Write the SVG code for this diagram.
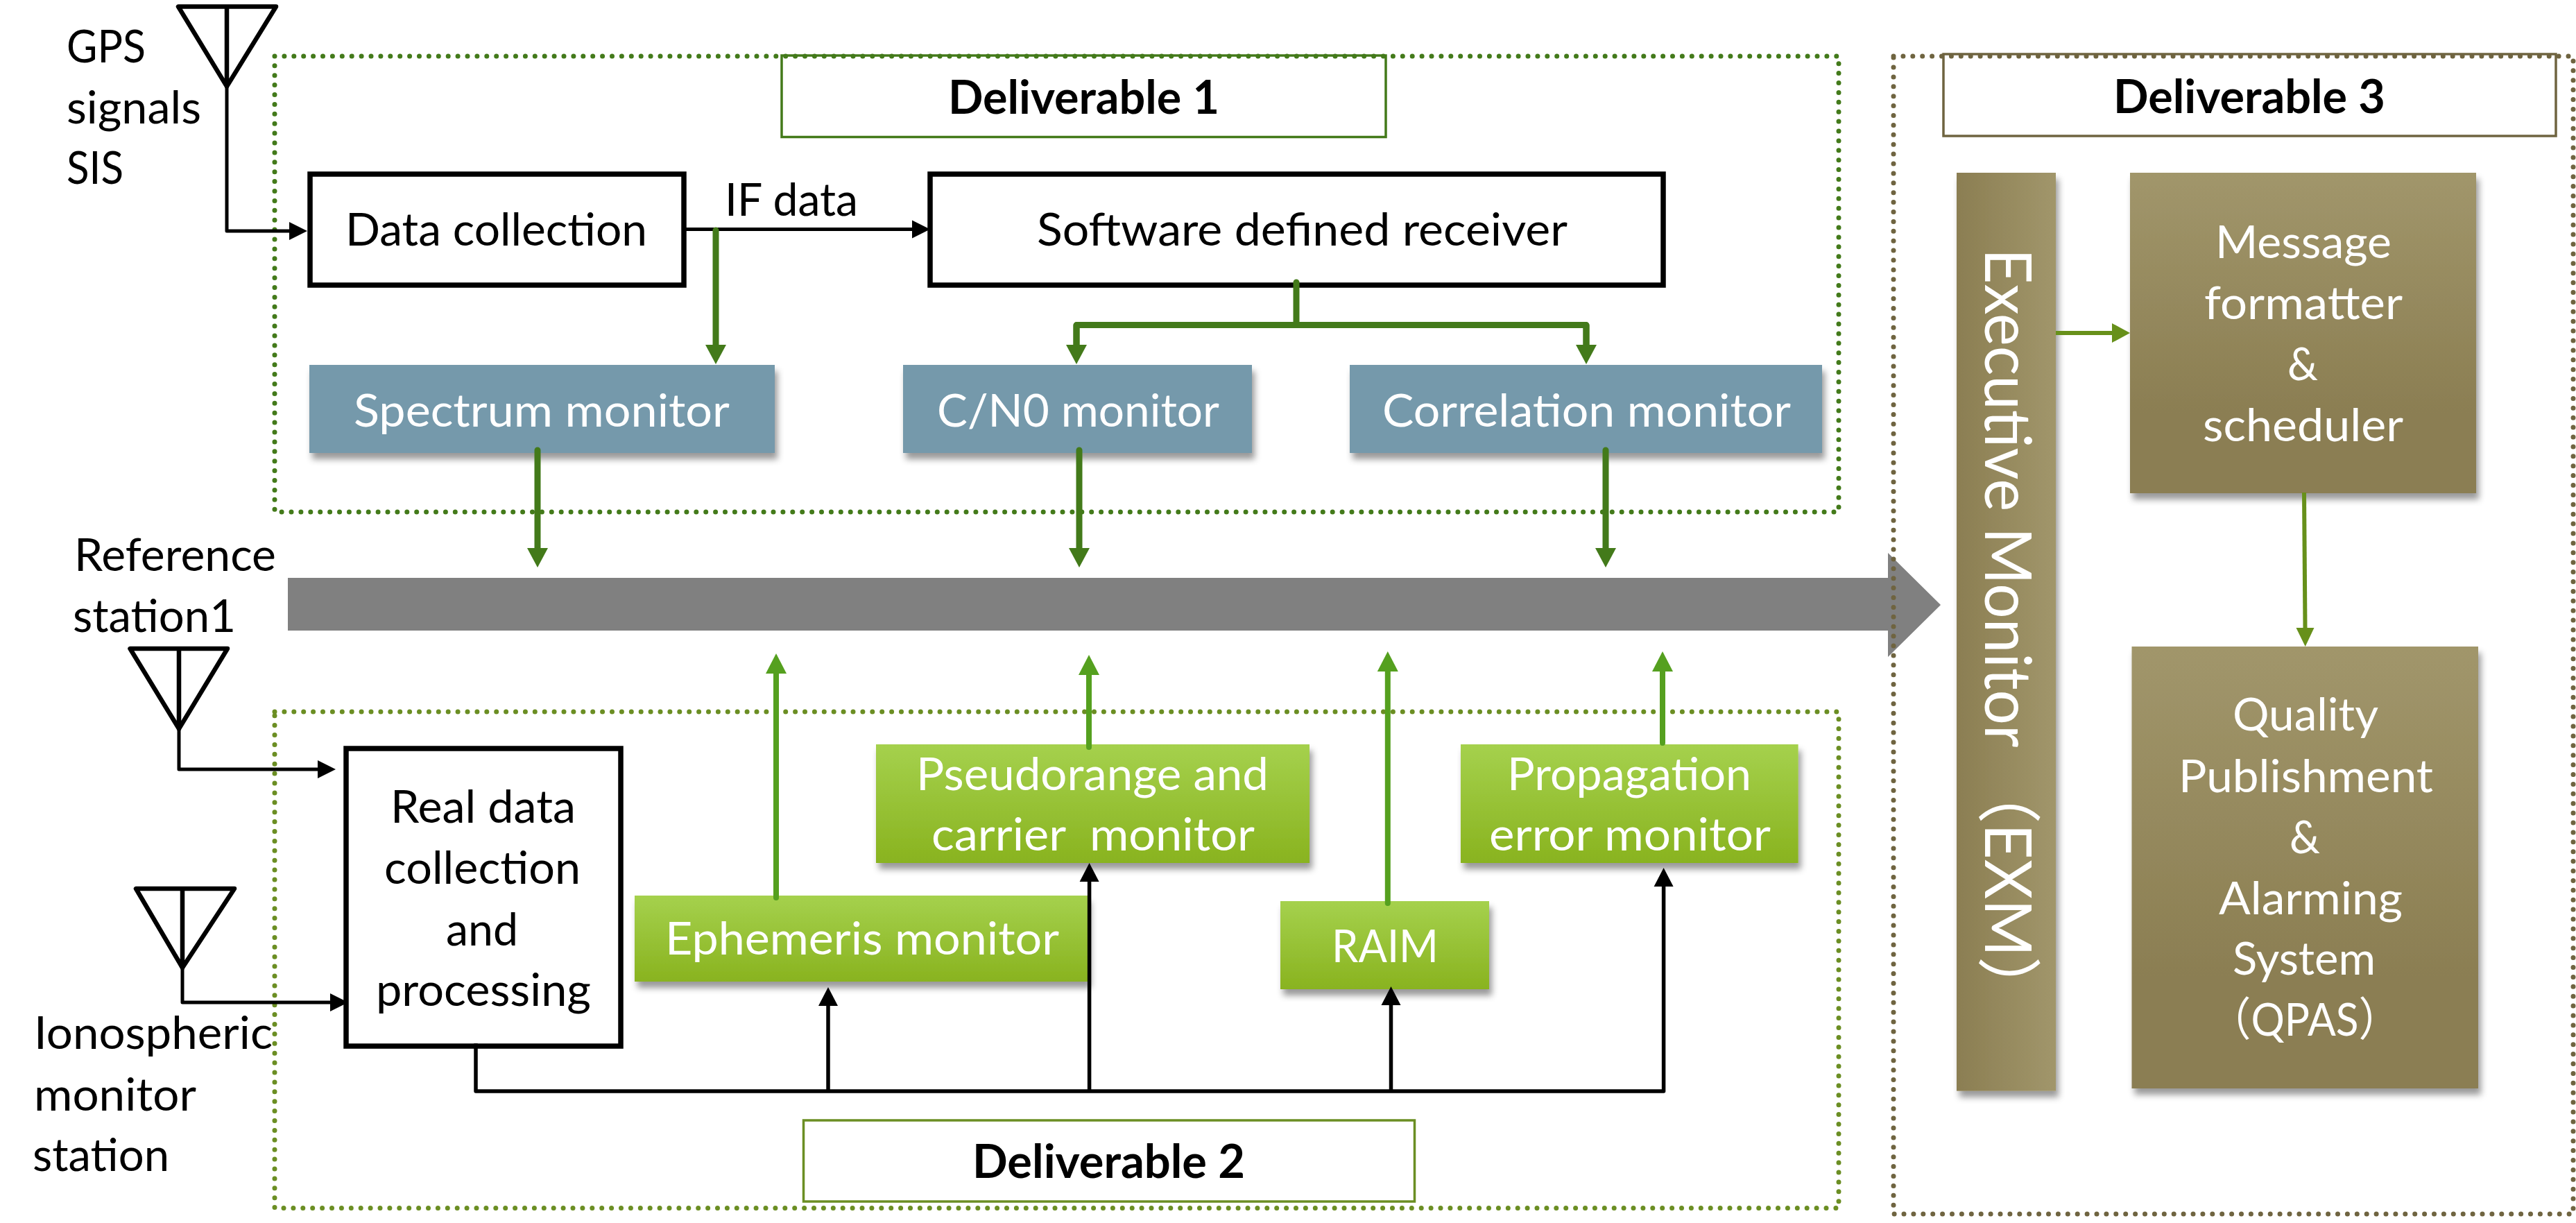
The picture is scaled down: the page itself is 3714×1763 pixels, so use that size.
<svg xmlns="http://www.w3.org/2000/svg" width="3714" height="1763" viewBox="0 0 3714 1763">
<style>
text{font-family:"Lato","Noto Sans CJK SC",sans-serif;font-size:66px;fill:#000;white-space:pre}
.w{fill:#fff}
.b{font-weight:700;font-size:67px}
.blk{fill:#fff;stroke:#000;stroke-width:7.500}
.ant{fill:none;stroke:#000;stroke-width:6.500;stroke-linejoin:round;stroke-linecap:round}
.mon{fill:#7599ab;filter:url(#sh)}
.grn{fill:url(#gg);filter:url(#sh)}
.ol{fill:url(#gv);filter:url(#sh)}
.dot{fill:none;stroke-width:7;stroke-linecap:round;stroke-dasharray:0 13.9}
.c{fill:none;stroke-linejoin:round}
.kl{stroke:#000;stroke-width:5}
.k2{stroke:#000;stroke-width:5.500}
.dg{stroke:#437a1a;stroke-width:9;stroke-linecap:round}
.lg{stroke:#55a01f;stroke-width:8;stroke-linecap:round}
.og{stroke:#67901a;stroke-width:6}
</style>
<defs>
<linearGradient id="gg" x1="0" y1="0" x2="0" y2="1"><stop offset="0" stop-color="#a5d14d"/><stop offset="1" stop-color="#89b31f"/></linearGradient>
<linearGradient id="gv" x1="0" y1="0" x2="0" y2="1"><stop offset="0" stop-color="#a1966b"/><stop offset="0.75" stop-color="#8b7e52"/><stop offset="1" stop-color="#8b7e52"/></linearGradient>
<linearGradient id="gh" x1="0" y1="0" x2="1" y2="0"><stop offset="0" stop-color="#8b7e52"/><stop offset="1" stop-color="#a1966b"/></linearGradient>
<filter id="sh" x="-10%" y="-10%" width="120%" height="125%"><feDropShadow dx="4" dy="9" stdDeviation="5" flood-color="#000" flood-opacity="0.4"/></filter>
<marker id="mk" markerUnits="userSpaceOnUse" markerWidth="30" markerHeight="30" refX="0" refY="15" orient="auto" viewBox="0 0 30 30"><polygon points="0,2 26,15 0,28" fill="#000"/></marker>
<marker id="mku" markerUnits="userSpaceOnUse" markerWidth="30" markerHeight="30" refX="0" refY="15" orient="auto" viewBox="0 0 30 30"><polygon points="0,1 27,15 0,29" fill="#000"/></marker>
<marker id="mdg" markerUnits="userSpaceOnUse" markerWidth="30" markerHeight="32" refX="0" refY="16" orient="auto" viewBox="0 0 30 32"><polygon points="0,1 28,16 0,31" fill="#437a1a"/></marker>
<marker id="mlg" markerUnits="userSpaceOnUse" markerWidth="30" markerHeight="32" refX="0" refY="16" orient="auto" viewBox="0 0 30 32"><polygon points="0,1 29,16 0,31" fill="#55a01f"/></marker>
<marker id="mo1" markerUnits="userSpaceOnUse" markerWidth="28" markerHeight="30" refX="0" refY="15" orient="auto" viewBox="0 0 28 30"><polygon points="0,1 26,15 0,29" fill="#67901a"/></marker>
<marker id="mo2" markerUnits="userSpaceOnUse" markerWidth="28" markerHeight="28" refX="0" refY="14" orient="auto" viewBox="0 0 28 28"><polygon points="0,1 27,14 0,27" fill="#67901a"/></marker>
</defs>

<g id="bus-arrow"><polygon points="415,833 2722,833 2722,797 2798,872 2722,947 2722,909 415,909" fill="#808080"/></g>

<g id="deliverable-1">
<rect x="1127" y="80" width="871" height="117.500" fill="#fff" stroke="#437a1a" stroke-width="3.500"/>
<rect class="dot" x="396" y="81" width="2255" height="657" stroke="#437a1a"/>
<text class="b" x="1367" y="164" textLength="391" lengthAdjust="spacingAndGlyphs">Deliverable 1</text>
</g>
<g id="deliverable-2">
<rect x="1158.500" y="1615" width="881" height="117" fill="#fff" stroke="#6b8e23" stroke-width="3.500"/>
<rect class="dot" x="396" y="1026" width="2255" height="715.500" stroke="#6b8e23"/>
<text class="b" x="1402" y="1697.500" textLength="393" lengthAdjust="spacingAndGlyphs">Deliverable 2</text>
</g>
<g id="deliverable-3">
<rect x="2802" y="78" width="883" height="118" fill="#fff" stroke="#6f6440" stroke-width="3.500"/>
<rect class="dot" x="2730" y="81" width="980" height="1669" stroke="#6f6440"/>
<text class="b" x="3047" y="163" textLength="392" lengthAdjust="spacingAndGlyphs">Deliverable 3</text>
</g>

<g id="gps-antenna">
<path class="ant" d="M257,9.500H398L327,124.600ZM327,9.500V124.600"/>
<text x="96" y="90" textLength="114" lengthAdjust="spacingAndGlyphs">GPS</text>
<text x="96" y="178" textLength="194" lengthAdjust="spacingAndGlyphs">signals</text>
<text x="96" y="265" textLength="82" lengthAdjust="spacingAndGlyphs">SIS</text>
</g>
<g id="reference-antenna">
<path class="ant" d="M187.500,935H328L258,1050.600ZM258,935V1050.600"/>
<text x="107" y="823" textLength="291" lengthAdjust="spacingAndGlyphs">Reference</text>
<text x="105" y="911" textLength="235" lengthAdjust="spacingAndGlyphs">station1</text>
</g>
<g id="ionospheric-antenna">
<path class="ant" d="M196,1281H338L263,1395ZM263,1281V1395"/>
<text x="49" y="1512" textLength="344" lengthAdjust="spacingAndGlyphs">Ionospheric</text>
<text x="49" y="1601" textLength="234" lengthAdjust="spacingAndGlyphs">monitor</text>
<text x="47" y="1688" textLength="197" lengthAdjust="spacingAndGlyphs">station</text>
</g>

<g id="data-collection"><rect class="blk" x="447" y="251" width="539" height="160"/>
<text x="498" y="353.500" textLength="435" lengthAdjust="spacingAndGlyphs">Data collection</text></g>
<g id="software-defined-receiver"><rect class="blk" x="1341" y="251" width="1057" height="160"/>
<text x="1495" y="353.500" textLength="765" lengthAdjust="spacingAndGlyphs">Software defined receiver</text></g>
<g id="spectrum-monitor"><rect class="mon" x="446" y="526" width="671" height="127"/>
<text class="w" x="510" y="614.500" textLength="542" lengthAdjust="spacingAndGlyphs">Spectrum monitor</text></g>
<g id="cn0-monitor"><rect class="mon" x="1302" y="526" width="503" height="127"/>
<text class="w" x="1351" y="614.500" textLength="407" lengthAdjust="spacingAndGlyphs">C/N0 monitor</text></g>
<g id="correlation-monitor"><rect class="mon" x="1946" y="526" width="681" height="127"/>
<text class="w" x="1993" y="614.500" textLength="589" lengthAdjust="spacingAndGlyphs">Correlation monitor</text></g>

<g id="real-data"><rect class="blk" x="499" y="1079" width="396" height="429"/>
<text x="563" y="1186" textLength="267" lengthAdjust="spacingAndGlyphs">Real data</text>
<text x="554" y="1274" textLength="283" lengthAdjust="spacingAndGlyphs">collection</text>
<text x="643" y="1362.500" textLength="104" lengthAdjust="spacingAndGlyphs">and</text>
<text x="542" y="1450" textLength="310" lengthAdjust="spacingAndGlyphs">processing</text></g>
<g id="ephemeris-monitor"><rect class="grn" x="915" y="1291" width="654" height="124"/>
<text class="w" x="959" y="1375.500" textLength="568" lengthAdjust="spacingAndGlyphs">Ephemeris monitor</text></g>
<g id="pseudorange-monitor"><rect class="grn" x="1263" y="1073" width="625" height="171"/>
<text class="w" x="1321" y="1139" textLength="508" lengthAdjust="spacingAndGlyphs">Pseudorange and</text>
<text class="w" x="1343" y="1226" textLength="466" lengthAdjust="spacingAndGlyphs">carrier  monitor</text></g>
<g id="raim"><rect class="grn" x="1846" y="1299" width="301" height="127"/>
<text class="w" x="1920" y="1387" textLength="154" lengthAdjust="spacingAndGlyphs">RAIM</text></g>
<g id="propagation-monitor"><rect class="grn" x="2106" y="1073" width="486.600" height="171"/>
<text class="w" x="2173" y="1139" textLength="352" lengthAdjust="spacingAndGlyphs">Propagation</text>
<text class="w" x="2147" y="1226" textLength="406" lengthAdjust="spacingAndGlyphs">error monitor</text></g>

<g id="executive-monitor"><rect x="2821" y="249" width="143" height="1323.600" fill="url(#gh)" filter="url(#sh)"/>
<text class="w" transform="translate(2861.500,358) rotate(90)" style="font-size:93px" textLength="1110" lengthAdjust="spacingAndGlyphs">Executive Monitor （EXM）</text></g>
<g id="message-formatter"><rect class="ol" x="3071" y="249" width="499" height="462"/>
<text class="w" x="3194" y="371.500" textLength="254" lengthAdjust="spacingAndGlyphs">Message</text>
<text class="w" x="3178" y="460" textLength="286" lengthAdjust="spacingAndGlyphs">formatter</text>
<text class="w" x="3298" y="548" textLength="44" lengthAdjust="spacingAndGlyphs">&amp;</text>
<text class="w" x="3176" y="636" textLength="289" lengthAdjust="spacingAndGlyphs">scheduler</text></g>
<g id="qpas"><rect class="ol" x="3073.500" y="932" width="499.500" height="637"/>
<text class="w" x="3219" y="1053" textLength="210" lengthAdjust="spacingAndGlyphs">Quality</text>
<text class="w" x="3141" y="1142" textLength="367" lengthAdjust="spacingAndGlyphs">Publishment</text>
<text class="w" x="3301" y="1230" textLength="44" lengthAdjust="spacingAndGlyphs">&amp;</text>
<text class="w" x="3199" y="1318" textLength="265" lengthAdjust="spacingAndGlyphs">Alarming</text>
<text class="w" x="3219" y="1405" textLength="206" lengthAdjust="spacingAndGlyphs">System</text>
<text class="w" x="3185" y="1493" textLength="276" lengthAdjust="spacingAndGlyphs">（QPAS）</text></g>

<g id="connectors">
<text x="1045" y="311" textLength="192" lengthAdjust="spacingAndGlyphs">IF data</text>
<path class="c kl" d="M327,124.600V333H417" marker-end="url(#mk)"/>
<path class="c kl" d="M986,330.500H1315" marker-end="url(#mk)"/>
<path class="c kl" d="M258,1050.600V1109H458" marker-end="url(#mk)"/>
<path class="c kl" d="M263,1395V1445H476" marker-end="url(#mk)"/>
<path class="c k2" d="M686,1504V1573H2398.600V1278" marker-end="url(#mku)"/>
<path class="c k2" d="M1194,1573V1450" marker-end="url(#mku)"/>
<path class="c k2" d="M1570.600,1573V1271" marker-end="url(#mku)"/>
<path class="c k2" d="M2005.500,1573V1449" marker-end="url(#mku)"/>
<path class="c dg" d="M1032,332V497" marker-end="url(#mdg)"/>
<path class="c dg" d="M1869,407V468.600"/>
<path class="c dg" d="M1552,497V468.600H2287V497"/>
<path class="c dg" d="M1552,469V497" marker-end="url(#mdg)"/>
<path class="c dg" d="M2287,469V497" marker-end="url(#mdg)"/>
<path class="c dg" d="M775,649V790" marker-end="url(#mdg)"/>
<path class="c dg" d="M1556,649V790" marker-end="url(#mdg)"/>
<path class="c dg" d="M2315,649V790" marker-end="url(#mdg)"/>
<path class="c lg" d="M1119,1294V971" marker-end="url(#mlg)"/>
<path class="c lg" d="M1570,1077V973" marker-end="url(#mlg)"/>
<path class="c lg" d="M2000.800,1302V968" marker-end="url(#mlg)"/>
<path class="c lg" d="M2397,1071V968" marker-end="url(#mlg)"/>
<path class="c og" d="M2964,480H3045" marker-end="url(#mo1)"/>
<path class="c og" d="M3322,710L3323.500,905" marker-end="url(#mo2)"/>
</g>
</svg>
